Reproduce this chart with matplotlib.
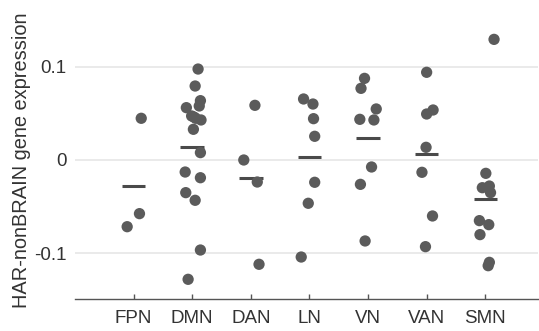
import matplotlib
matplotlib.use("Agg")
import matplotlib.pyplot as plt
import numpy as np

plt.rcParams['font.family'] = ['Liberation Sans', 'DejaVu Sans']

categories = ["FPN", "DMN", "DAN", "LN", "VN", "VAN", "SMN"]

values = {
    "FPN": [0.0447, -0.0575, -0.0715],
    "DMN": [0.0975, 0.0793, 0.0636, 0.0579, 0.0561, 0.0472, 0.0447, 0.0429,
            0.0460, 0.0329, 0.0079, -0.0129, -0.0190, -0.0350, -0.0432,
            -0.0965, -0.1279],
    "DAN": [0.0586, 0.0, -0.0236, -0.1118],
    "LN": [0.0654, 0.0600, 0.0443, 0.0254, -0.0239, -0.0464, -0.1040],
    "VN": [0.0875, 0.0768, 0.0547, 0.0436, 0.0429, -0.0075, -0.0261, -0.0868],
    "VAN": [0.0940, 0.0536, 0.0493, 0.0136, -0.0132, -0.0600, -0.0929],
    "SMN": [0.1293, -0.0143, -0.0297, -0.0279, -0.0350, -0.0650, -0.0693,
            -0.0800, -0.1097, -0.1133],
}

# horizontal offsets of the dots (in category units)
offsets = {
    "FPN": [0.13, 0.10, -0.11],
    "DMN": [0.10, 0.05, 0.14, 0.12, -0.10, -0.01, 0.06, 0.15, 0.03, 0.02,
            0.14, -0.12, 0.14, -0.11, 0.05, 0.14, -0.07],
    "DAN": [0.07, -0.12, 0.11, 0.14],
    "LN": [-0.10, 0.06, 0.07, 0.09, 0.09, -0.02, -0.14],
    "VN": [-0.06, -0.12, 0.14, -0.14, 0.10, 0.06, -0.13, -0.05],
    "VAN": [0.00, 0.11, 0.00, -0.01, -0.08, 0.10, -0.02],
    "SMN": [0.15, 0.01, -0.05, 0.07, 0.09, -0.10, 0.06, -0.09, 0.07, 0.05],
}

yticks = [-0.1, 0, 0.1]
yticklabels = ["-0.1", "0", "0.1"]

W, H = 539, 331
fig = plt.figure(figsize=(W / 100, H / 100), dpi=100)
ax = fig.add_axes([75 / W, (H - 299) / H, (538 - 75) / W, 299 / H])

dot_color = "#5b5b5b"
for i, cat in enumerate(categories, start=1):
    ys = np.array(values[cat])
    xs = i + np.array(offsets[cat])
    m = ys.mean()
    ax.plot([i - 0.2, i + 0.2], [m, m], color="#4a4a4a", lw=2.2,
            solid_capstyle="butt", zorder=3)
    ax.scatter(xs, ys, s=66, color=dot_color, edgecolors="none", zorder=4)

ax.set_xlim(0, 7.9)
ax.set_ylim(-0.149, 0.1715)
ax.set_xticks(range(1, len(categories) + 1))
ax.set_xticklabels(categories)
ax.set_yticks(yticks)
ax.set_yticklabels(yticklabels)

ax.grid(axis="y", color="#e6e6e6", lw=1.2, zorder=0)
ax.set_axisbelow(True)
for s in ["top", "right", "left"]:
    ax.spines[s].set_visible(False)
ax.spines["bottom"].set_color("#555555")
ax.spines["bottom"].set_linewidth(1.0)

ax.tick_params(axis="x", direction="in", length=3.5, width=1, color="#555555",
               pad=8, labelsize=13.5, labelcolor="#333333")
ax.tick_params(axis="y", length=0, pad=6, labelsize=13.5, labelcolor="#333333")

fig.text(22 / W, 1 - 160 / H, "HAR-nonBRAIN gene expression", rotation=90,
         ha="center", va="center", fontsize=14.4, color="#333333")

fig.savefig("out.png", dpi=100)
